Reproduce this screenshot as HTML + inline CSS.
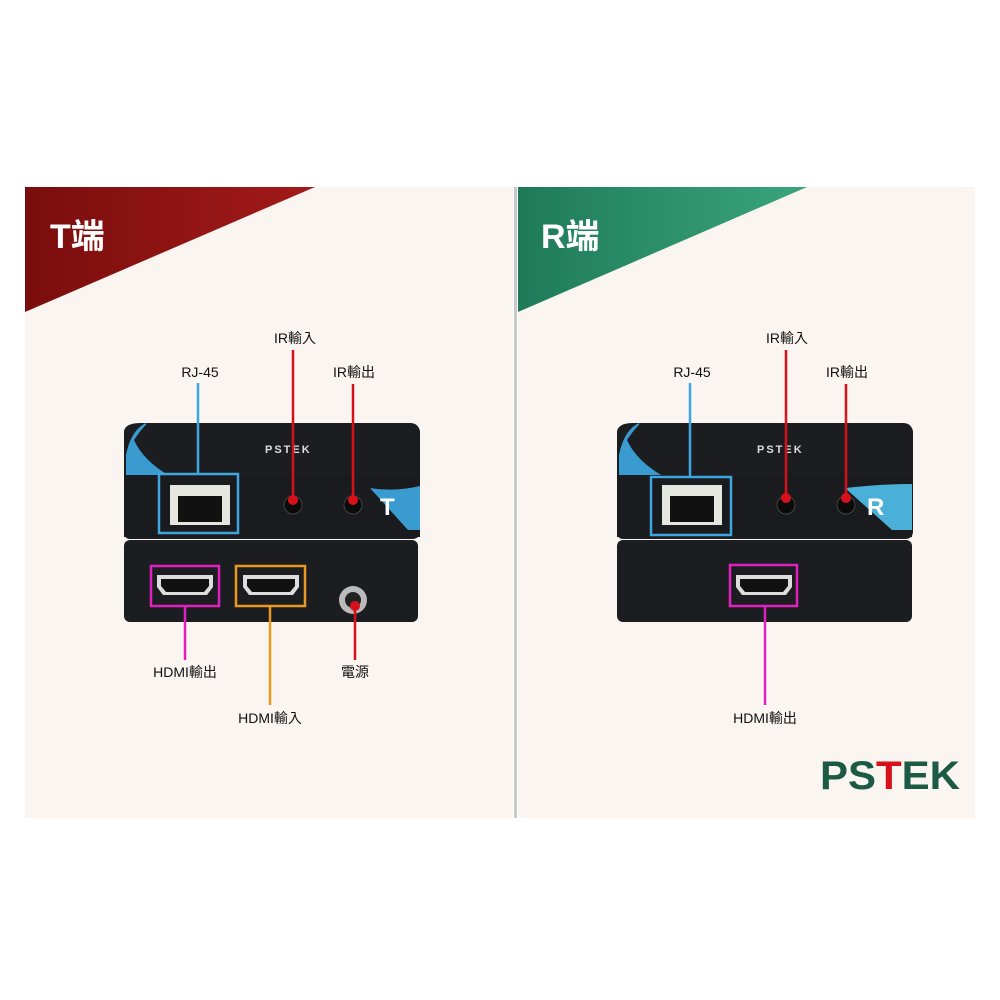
<!DOCTYPE html>
<html><head><meta charset="utf-8"><style>
html,body{margin:0;padding:0;background:#fff;}
svg{display:block}
text{font-family:"Liberation Sans","Noto Sans CJK TC",sans-serif;}
</style></head><body>
<svg width="1000" height="1000" viewBox="0 0 1000 1000" xmlns="http://www.w3.org/2000/svg">
<defs>
<linearGradient id="rg" x1="0" y1="0" x2="1" y2="0"><stop offset="0" stop-color="#7a0d0d"/><stop offset="1" stop-color="#a31a1a"/></linearGradient>
<linearGradient id="gg" x1="0" y1="0" x2="1" y2="0"><stop offset="0" stop-color="#1f7a5a"/><stop offset="1" stop-color="#3aa57c"/></linearGradient>
<g id="hdmi"><path d="M0,0 h56 v12 l-6,8 h-44 l-6,-8z" fill="#ddd"/><path d="M4,4 h48 v7 l-5,6 h-38 l-5,-6z" fill="#111"/></g>
</defs>
<rect x="25" y="187" width="488" height="631" fill="#faf5f0"/>
<rect x="518" y="187" width="457" height="631" fill="#faf5f0"/>
<rect x="514" y="187" width="3" height="631" fill="#c8c8c8"/>
<polygon points="25,187 315,187 25,312" fill="url(#rg)"/>
<polygon points="518,187 807,187 518,312" fill="url(#gg)"/>
<text x="50" y="248" font-size="34" font-weight="bold" fill="#fff">T端</text>
<text x="541" y="248" font-size="34" font-weight="bold" fill="#fff">R端</text>

<!-- T device -->
<g>
<path d="M140,423 h270 q8,0 10,8 v100 q0,8 -8,8 h-282 q-6,0 -6,-8 v-100 q2,-8 16,-8z" fill="#1c1d20"/>
<path d="M126,455 q5,-25 20,-32 q5,30 40,52 l-60,0z" fill="#3a9bd0"/>
<path d="M134,440 q8,-12 14,-17 q6,30 40,52 l-20,0 q-25,-15 -34,-35z" fill="#1c1d20"/>
<rect x="124" y="475" width="296" height="62" fill="#1a1b1e"/>
<path d="M370,488 q25,4 50,-2 v44 h-12z" fill="#3a9bd0"/>
<text x="380" y="515" font-size="24" font-weight="bold" fill="#fff">T</text>
<text x="265" y="453" font-size="11" font-weight="bold" fill="#ddd" letter-spacing="2">PSTEK</text>
<rect x="124" y="540" width="294" height="82" rx="6" fill="#1c1d20"/>
<rect x="170" y="485" width="60" height="40" fill="#e6e6e0"/><rect x="178" y="496" width="44" height="26" fill="#111"/>
<circle cx="293" cy="505" r="9" fill="#0b0b0b" stroke="#444"/><circle cx="353" cy="505" r="9" fill="#0b0b0b" stroke="#444"/>
<use href="#hdmi" x="157" y="575"/><use href="#hdmi" x="243" y="575"/>
<circle cx="353" cy="600" r="14" fill="#bbb"/><circle cx="353" cy="600" r="8" fill="#222"/>
<rect x="159" y="474" width="79" height="59" fill="none" stroke="#3da5e0" stroke-width="2.5"/>
<rect x="151" y="566" width="68" height="40" fill="none" stroke="#e020c0" stroke-width="2.5"/>
<rect x="236" y="566" width="69" height="40" fill="none" stroke="#e89a20" stroke-width="2.5"/>
<line x1="198" y1="383" x2="198" y2="474" stroke="#3da5e0" stroke-width="2.5"/>
<line x1="293" y1="350" x2="293" y2="500" stroke="#d8101a" stroke-width="2.5"/><circle cx="293" cy="500" r="5" fill="#d8101a"/>
<line x1="353" y1="384" x2="353" y2="500" stroke="#d8101a" stroke-width="2.5"/><circle cx="353" cy="500" r="5" fill="#d8101a"/>
<line x1="185" y1="606" x2="185" y2="660" stroke="#e020c0" stroke-width="2.5"/>
<line x1="270" y1="606" x2="270" y2="705" stroke="#e89a20" stroke-width="2.5"/>
<line x1="355" y1="606" x2="355" y2="660" stroke="#d8101a" stroke-width="2.5"/><circle cx="355" cy="606" r="5" fill="#d8101a"/>
</g>
<g font-size="14" fill="#111" text-anchor="middle">
<text x="200" y="377">RJ-45</text><text x="295" y="343">IR輸入</text><text x="354" y="377">IR輸出</text>
<text x="185" y="677">HDMI輸出</text><text x="270" y="723">HDMI輸入</text><text x="355" y="677">電源</text>
<text x="692" y="377">RJ-45</text><text x="787" y="343">IR輸入</text><text x="847" y="377">IR輸出</text>
<text x="765" y="723">HDMI輸出</text>
</g>

<!-- R device -->
<g>
<path d="M633,423 h270 q8,0 10,8 v100 q0,8 -8,8 h-282 q-6,0 -6,-8 v-100 q2,-8 16,-8z" fill="#1c1d20"/>
<path d="M619,455 q5,-25 20,-32 q5,30 40,52 l-60,0z" fill="#3a9bd0"/>
<path d="M627,440 q8,-12 14,-17 q6,30 40,52 l-20,0 q-25,-15 -34,-35z" fill="#1c1d20"/>
<rect x="617" y="475" width="295" height="62" fill="#1a1b1e"/>
<path d="M845,488 q35,-4 67,-4 v46 h-20z" fill="#4ab0d8"/>
<text x="867" y="515" font-size="24" font-weight="bold" fill="#fff">R</text>
<text x="757" y="453" font-size="11" font-weight="bold" fill="#ddd" letter-spacing="2">PSTEK</text>
<rect x="617" y="540" width="295" height="82" rx="6" fill="#1c1d20"/>
<rect x="662" y="485" width="60" height="40" fill="#e6e6e0"/><rect x="670" y="496" width="44" height="26" fill="#111"/>
<circle cx="786" cy="505" r="9" fill="#0b0b0b" stroke="#444"/><circle cx="846" cy="505" r="9" fill="#0b0b0b" stroke="#444"/>
<use href="#hdmi" x="736" y="575"/>
<rect x="651" y="477" width="80" height="58" fill="none" stroke="#3da5e0" stroke-width="2.5"/>
<rect x="730" y="565" width="67" height="41" fill="none" stroke="#e020c0" stroke-width="2.5"/>
<line x1="690" y1="383" x2="690" y2="477" stroke="#3da5e0" stroke-width="2.5"/>
<line x1="786" y1="350" x2="786" y2="498" stroke="#d8101a" stroke-width="2.5"/><circle cx="786" cy="498" r="5" fill="#d8101a"/>
<line x1="846" y1="384" x2="846" y2="498" stroke="#d8101a" stroke-width="2.5"/><circle cx="846" cy="498" r="5" fill="#d8101a"/>
<line x1="765" y1="606" x2="765" y2="705" stroke="#e020c0" stroke-width="2.5"/>
</g>

<text x="820" y="789" font-size="40" font-weight="bold" fill="#1d5a45" textLength="140" lengthAdjust="spacingAndGlyphs">PS<tspan fill="#d8101a">T</tspan>EK</text>
</svg>
</body></html>
